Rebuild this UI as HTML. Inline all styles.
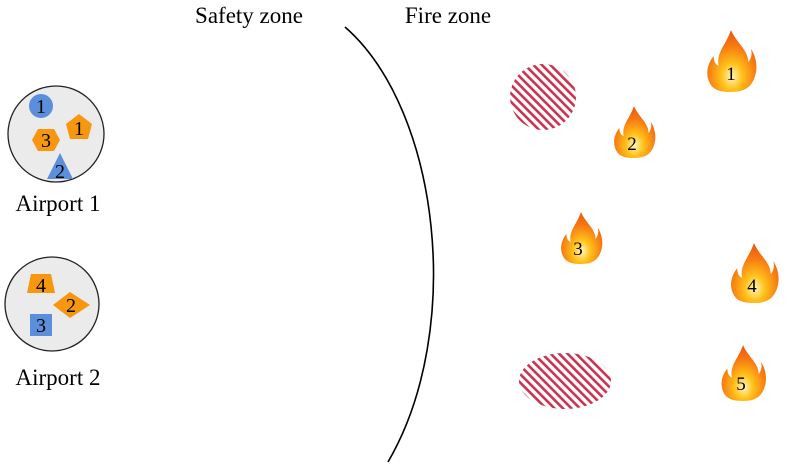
<!DOCTYPE html>
<html><head><meta charset="utf-8"><style>
body{margin:0;background:#fff;}
svg{display:block;font-family:"Liberation Serif",serif;}
</style></head><body>
<svg width="786" height="470" viewBox="0 0 786 470">
<defs>
<pattern id="hatch" patternUnits="userSpaceOnUse" width="6" height="6" patternTransform="rotate(-45)">
<rect width="6" height="6" fill="#fff"/><rect width="2.6" height="6" fill="#c8344e"/>
</pattern>
<radialGradient id="fg" cx="0.5" cy="0.75" r="0.7">
<stop offset="0" stop-color="#fff6c0"/><stop offset="0.3" stop-color="#ffc21a"/><stop offset="0.7" stop-color="#f77b12"/><stop offset="1" stop-color="#ee5a10"/>
</radialGradient>
<symbol id="flame" viewBox="0 0 40 50">
<path d="M20 0 C24 10 34 16 34 26 C37 22 37 18 36 15 C42 24 42 36 36 44 C32 49 26 50 20 50 C13 50 6 49 3 43 C-1 36 1 27 6 21 C6 26 8 28 10 29 C8 18 16 12 20 0 Z" fill="url(#fg)"/>
</symbol>
</defs>
<text x="249" y="23" font-size="23" text-anchor="middle">Safety zone</text>
<text x="448" y="23" font-size="23" text-anchor="middle">Fire zone</text>
<path d="M345 27 C440 110 465 330 388 462" fill="none" stroke="#000" stroke-width="1.6"/>

<g>
<circle cx="56" cy="134" r="48" fill="#ebebeb" stroke="#222" stroke-width="1.3"/>
<circle cx="41" cy="106" r="12" fill="#5b8fdc"/>
<text x="41" y="113" font-size="20" text-anchor="middle">1</text>
<polygon points="79,114 92,124 88,139 70,139 66,124" fill="#f7960f"/>
<text x="79" y="135" font-size="20" text-anchor="middle">1</text>
<polygon points="32,140 38,129 54,129 60,140 54,151 38,151" fill="#f7960f"/>
<text x="46" y="147" font-size="20" text-anchor="middle">3</text>
<polygon points="60,153 73,179 47,179" fill="#5b8fdc"/>
<text x="60" y="178" font-size="20" text-anchor="middle">2</text>
</g>
<text x="58" y="211" font-size="23" text-anchor="middle">Airport 1</text>

<g>
<circle cx="52" cy="304" r="47" fill="#ebebeb" stroke="#222" stroke-width="1.3"/>
<polygon points="31,274 51,274 55,293 27,293" fill="#f7960f"/>
<text x="41" y="292" font-size="20" text-anchor="middle">4</text>
<polygon points="53,305 70,292 90,305 70,318" fill="#f7960f"/>
<text x="71" y="312" font-size="20" text-anchor="middle">2</text>
<rect x="30" y="314" width="22" height="22" fill="#5b8fdc"/>
<text x="41" y="332" font-size="20" text-anchor="middle">3</text>
</g>
<text x="58" y="385" font-size="23" text-anchor="middle">Airport 2</text>

<ellipse cx="543" cy="97" rx="33" ry="33" fill="url(#hatch)"/>
<ellipse cx="565" cy="381" rx="46" ry="28" fill="url(#hatch)"/>

<g><use href="#flame" x="705" y="30" width="52" height="62"/><text x="731" y="80" font-size="19" text-anchor="middle">1</text></g>
<g><use href="#flame" x="612" y="106" width="44" height="52"/><text x="632" y="150" font-size="19" text-anchor="middle">2</text></g>
<g><use href="#flame" x="559" y="212" width="44" height="52"/><text x="578" y="255" font-size="19" text-anchor="middle">3</text></g>
<g><use href="#flame" x="729" y="243" width="50" height="60"/><text x="752" y="292" font-size="19" text-anchor="middle">4</text></g>
<g><use href="#flame" x="719" y="345" width="48" height="56"/><text x="741" y="390" font-size="19" text-anchor="middle">5</text></g>
</svg>
</body></html>
